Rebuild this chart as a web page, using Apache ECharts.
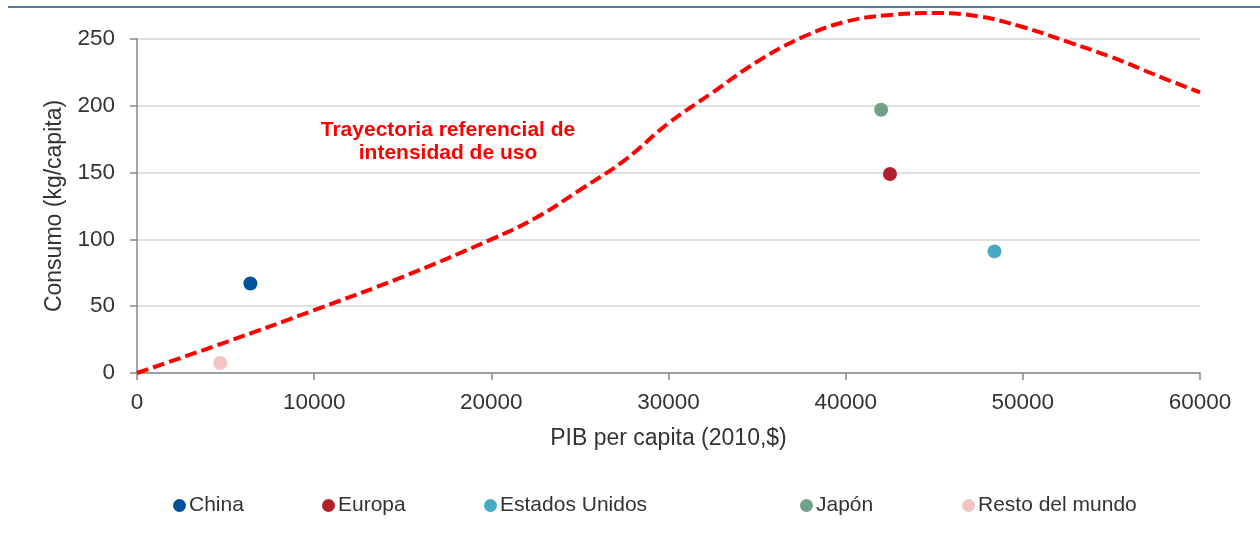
<!DOCTYPE html>
<html>
<head>
<meta charset="utf-8">
<script src="https://cdn.jsdelivr.net/npm/echarts@6/dist/echarts.min.js"></script>
<style>
  html, body { margin: 0; padding: 0; background: #fff; }
  #chart { width: 1260px; height: 538px; }
</style>
</head>
<body>
<div id="chart"></div>
<script>
// trayectoria referencial (PIB per capita -> consumo)
const curveX = [0, 5000, 10000, 15000, 20000, 22500, 25000, 27500, 30000, 32500, 35000, 37500, 40000, 42500, 45000, 47500, 50000, 52500, 55000, 57500, 60000]
const curveY = [0, 23, 47, 72, 100, 116, 137, 159, 187, 210, 233, 251, 263, 268, 269.5, 267, 259, 248, 236.5, 223, 210]

// regiones
const regions = ['China', 'Europa', 'Estados Unidos', 'Japón', 'Resto del mundo']
const pibValues = [6400, 42500, 48400, 42000, 4700]
const consumoValues = [67, 149, 91, 197, 7.5]
const colors = ['#00529b', '#b0202a', '#48a9c5', '#6fa287', '#f4c3c3']
const legendLeft = [173, 322, 484, 800, 962]

const font = '"Liberation Sans", Arial, sans-serif'
const chart = echarts.init(document.getElementById('chart'))

const option = {
  animation: false,
  textStyle: { fontFamily: font },
  grid: { left: 137, right: 60, top: 39, bottom: 165 },
  xAxis: {
    type: 'value',
    min: 0,
    max: 60000,
    interval: 10000,
    name: 'PIB per capita (2010,$)',
    nameLocation: 'middle',
    nameGap: 54,
    nameTextStyle: { color: '#333', fontSize: 23, fontFamily: font },
    axisLine: { show: true, lineStyle: { color: '#888', width: 1.5 } },
    axisTick: { show: true, length: 7, lineStyle: { color: '#888', width: 1.5 } },
    axisLabel: { color: '#333', fontSize: 22.5, margin: 18, fontFamily: font, formatter: v => String(v) },
    splitLine: { show: false }
  },
  yAxis: {
    type: 'value',
    min: 0,
    max: 250,
    interval: 50,
    name: 'Consumo (kg/capita)',
    nameLocation: 'middle',
    nameGap: 66,
    nameTextStyle: { color: '#333', fontSize: 23, fontFamily: font },
    axisLine: { show: true, lineStyle: { color: '#888', width: 1.5 } },
    axisTick: { show: true, length: 7, lineStyle: { color: '#888', width: 1.5 } },
    axisLabel: { color: '#333', fontSize: 22.5, margin: 22, fontFamily: font },
    splitLine: { show: true, lineStyle: { color: '#d4d4d4', width: 1.5 } }
  },
  legend: regions.map((name, i) => ({
    data: [name],
    left: legendLeft[i],
    top: 495,
    icon: 'circle',
    itemWidth: 13,
    itemHeight: 13,
    itemGap: 0,
    padding: 0,
    selectedMode: false,
    textStyle: { color: '#333', fontSize: 21, fontFamily: font, padding: [0, 0, 0, -2] }
  })),
  graphic: [
    {
      type: 'line',
      shape: { x1: 8, y1: 7, x2: 1260, y2: 7 },
      style: { stroke: '#1f4e79', lineWidth: 1.5 }
    },
    {
      type: 'text',
      x: 448,
      y: 119,
      style: {
        text: 'Trayectoria referencial de\nintensidad de uso',
        fill: '#ff0000',
        font: 'bold 21px "Liberation Sans", Arial, sans-serif',
        align: 'center',
        verticalAlign: 'top',
        lineHeight: 23
      }
    }
  ],
  series: [
    {
      name: 'Trayectoria',
      type: 'line',
      data: curveX.map((x, i) => [x, curveY[i]]),
      smooth: 0.4,
      clip: false,
      showSymbol: false,
      silent: true,
      z: 3,
      lineStyle: { color: '#ff0000', width: 4, type: [12, 5] }
    },
    ...regions.map((name, i) => ({
      name,
      type: 'scatter',
      symbol: 'circle',
      symbolSize: 14,
      z: 4,
      itemStyle: { color: colors[i], opacity: 1 },
      data: [[pibValues[i], consumoValues[i]]]
    }))
  ]
}

chart.setOption(option)
</script>
</body>
</html>
